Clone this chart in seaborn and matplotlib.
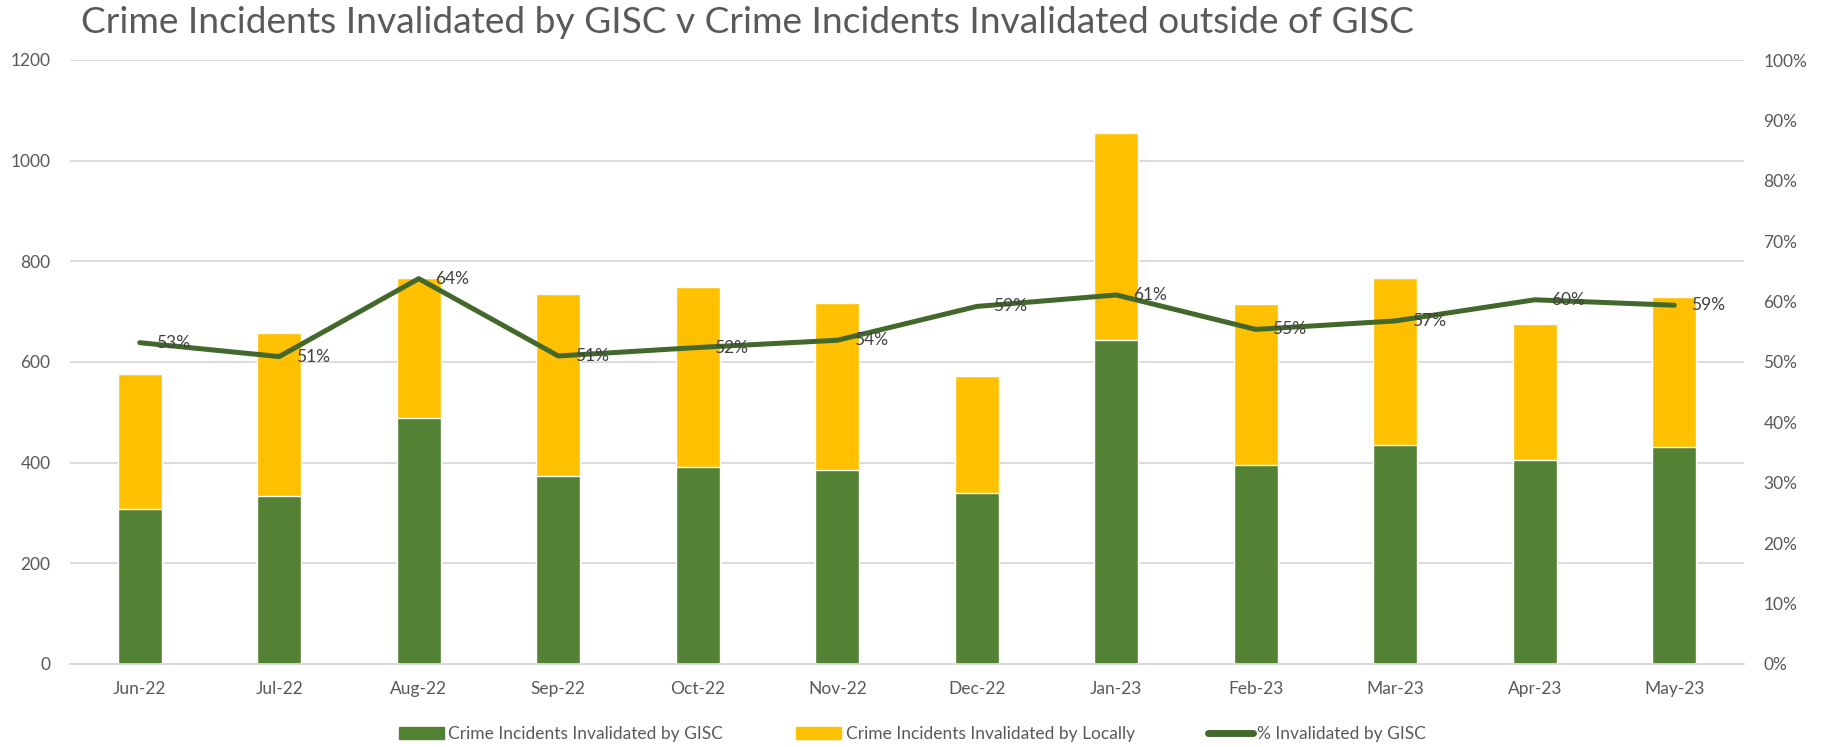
import numpy as np
import pandas as pd
import matplotlib
matplotlib.use("Agg")
import matplotlib.pyplot as plt
import seaborn as sns
from matplotlib.patches import Patch
from matplotlib.lines import Line2D
from matplotlib.ticker import PercentFormatter, MultipleLocator, FixedLocator

months = ["Jun-22", "Jul-22", "Aug-22", "Sep-22", "Oct-22", "Nov-22",
          "Dec-22", "Jan-23", "Feb-23", "Mar-23", "Apr-23", "May-23"]
gisc = [307, 334, 489, 374, 391, 385, 339, 643, 395, 436, 406, 432]
local = [270, 324, 278, 362, 359, 333, 233, 411, 320, 330, 269, 298]
pct = [0.532, 0.509, 0.638, 0.510, 0.524, 0.536, 0.592, 0.611, 0.554, 0.568, 0.603, 0.594]
pct_labels = ["53%", "51%", "64%", "51%", "52%", "54%", "59%", "61%", "55%", "57%", "60%", "59%"]

GREEN = "#548235"
YELLOW = "#FFC000"
LINE = "#43682B"
GRID = "#D9D9D9"
TXT = "#595959"

sns.set_theme(style="white")
plt.rcParams['font.family'] = ['Lato', 'DejaVu Sans']

df = pd.DataFrame({"month": months, "gisc": gisc, "local": local})
df["total"] = df["gisc"] + df["local"]

W, H = 1825, 747
fig = plt.figure(figsize=(W / 100, H / 100), dpi=100)
ax = fig.add_axes([70 / W, (H - 664) / H, (1744 - 70) / W, (664 - 60) / H])

# stacked bars: total in yellow, GISC part drawn over it in green
sns.barplot(data=df, x="month", y="total", color=YELLOW, width=0.315,
            saturation=1, ax=ax)
sns.barplot(data=df, x="month", y="gisc", color=GREEN, width=0.315,
            saturation=1, ax=ax)

ax.set_xlim(-0.5, len(months) - 0.5)
ax.set_ylim(0, 1200)
ax.yaxis.set_major_locator(MultipleLocator(200))
ax.set_axisbelow(True)
ax.grid(axis="y", color=GRID, lw=1.3)
ax.grid(axis="x", visible=False)
for s in ["top", "left", "right"]:
    ax.spines[s].set_visible(False)
ax.spines["bottom"].set_color(GRID)
ax.spines["bottom"].set_linewidth(1.3)
ax.set_xlabel("")
ax.set_ylabel("")
ax.xaxis.set_minor_locator(FixedLocator(np.arange(-0.5, len(months), 1)))
ax.tick_params(axis="x", which="major", length=0, pad=12, labelsize=12.5, labelcolor=TXT)
ax.tick_params(axis="x", which="minor", length=6, width=1.3, color=GRID, direction="out")
ax.tick_params(axis="y", length=0, pad=14, labelsize=12.5, labelcolor=TXT)

ax2 = ax.twinx()
sns.lineplot(x=np.arange(len(months)), y=pct, color=LINE, lw=3.6, ax=ax2)
ax2.set_ylim(0, 1)
ax2.yaxis.set_major_locator(MultipleLocator(0.1))
ax2.yaxis.set_major_formatter(PercentFormatter(1, decimals=0))
ax2.tick_params(axis="y", length=0, pad=14, labelsize=12.5, labelcolor=TXT)
ax2.grid(False)
for s in ax2.spines.values():
    s.set_visible(False)
ax2.set_ylabel("")

for i, (p, lab) in enumerate(zip(pct, pct_labels)):
    ax2.annotate(lab, (i, p), xytext=(12, 0), textcoords="offset points",
                 ha="left", va="center", fontsize=12.5, color="#404040")

fig.text(81 / W, 1 - 33 / H,
         "Crime Incidents Invalidated by GISC v Crime Incidents Invalidated outside of GISC",
         fontsize=26.7, color=TXT, fontweight="normal", va="baseline", ha="left")

handles = [Patch(color=GREEN, label="Crime Incidents Invalidated by GISC"),
           Patch(color=YELLOW, label="Crime Incidents Invalidated by Locally"),
           Line2D([0], [0], color=LINE, lw=5, label="% Invalidated by GISC")]
leg = fig.legend(handles=handles, loc="center", bbox_to_anchor=(0.5, 1 - 734 / H),
                 ncol=3, frameon=False, fontsize=12.5, handlelength=2.6,
                 handleheight=0.7, columnspacing=4.2, handletextpad=0.25)
for t in leg.get_texts():
    t.set_color(TXT)

fig.savefig("out.png", dpi=100)
